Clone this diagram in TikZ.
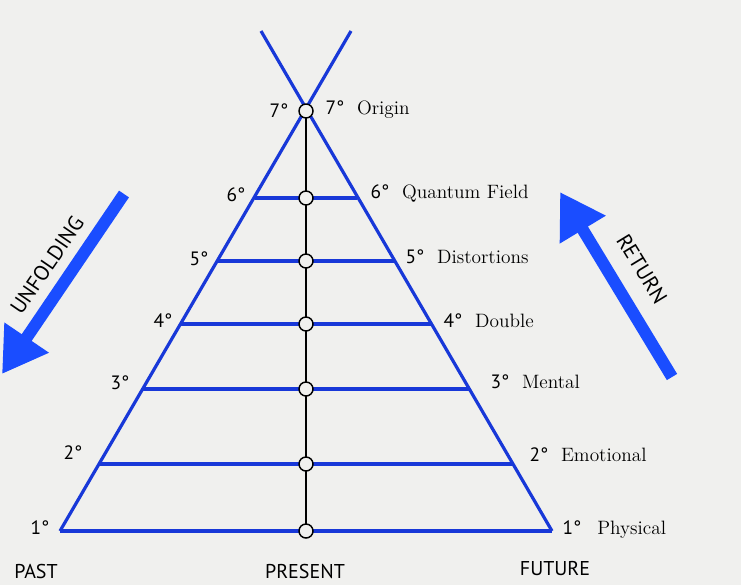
\documentclass[tikz,border=0pt]{standalone}
\usepackage{fontspec}
\setsansfont{PT Sans}
\usetikzlibrary{arrows.meta}
\definecolor{bgrey}{HTML}{F0F0EE}
\definecolor{lineblue}{HTML}{1838D8}
\definecolor{arrowblue}{HTML}{1A4DFF}
\tikzset{
    level/.style={lineblue, line width=2.4pt},
    spine/.style={black, line width=2.2pt},
    joint/.style={circle, draw=black, fill=bgrey, line width=1.1pt, minimum size=10.5pt, inner sep=0pt},
    deg/.style={font=\sffamily\fontsize{14.5}{16}\selectfont, inner sep=1pt},
    named/.style={font=\fontsize{14.5}{16}\selectfont, anchor=west, inner sep=1pt},
    time/.style={font=\sffamily\fontsize{15}{17}\selectfont},
    flow/.style={arrowblue, line width=9pt, -{Triangle[length=33pt,width=38pt]}},
    flowtext/.style={font=\sffamily\fontsize{16}{18}\selectfont}
}
\begin{document}
\begin{tikzpicture}[x=0.75pt, y=-0.75pt]
            % the frame
            \fill[bgrey] (0,0) rectangle (741,585);
            \useasboundingbox (0,0) rectangle (741,585);
            % the triangle
            \coordinate (apex) at (306,111);
            \coordinate (bl) at (60,531);
            \coordinate (br) at (552,531);
            \coordinate (tl) at (261,31);
            \coordinate (tr) at (351,31);
            \draw[level] (bl) -- (tr);
            \draw[level] (br) -- (tl);
            \draw[level] (bl) -- (br);

            % the levels
            \foreach \n/\y in {1/531,2/464,3/389,4/324,5/261,6/198} {
                \coordinate (l\n) at ({306-0.586*(\y-111)}, \y);
                \coordinate (r\n) at ({306+0.586*(\y-111)}, \y);
                \draw[level] (l\n) -- (r\n);
            };
            \draw[spine] (apex) -- (306,531);
            \foreach \n/\y in {1/531,2/464,3/389,4/324,5/261,6/198,7/111} {
                \node[joint] (c\n) at (306,\y) {};
            };

            % left degrees
            \node[deg] (d7) at (279,111) {7°};
            \node[deg] (d6) at (236,195) {6°};
            \node[deg] (d5) at (199,259) {5°};
            \node[deg] (d4) at (163,321) {4°};
            \node[deg] (d3) at (120,383) {3°};
            \node[deg] (d2) at (73,453) {2°};
            \node[deg] (d1) at (40,528) {1°};

            % right labels
            \node[named] (n7) at (324,110) {{\sffamily 7°}\,\, Origin};
            \node[named] (n6) at (369,193) {{\sffamily 6°}\,\, Quantum Field};
            \node[named] (n5) at (404,257) {{\sffamily 5°}\,\, Distortions};
            \node[named] (n4) at (442,321) {{\sffamily 4°}\,\, Double};
            \node[named] (n3) at (489,382) {{\sffamily 3°}\,\, Mental};
            \node[named] (n2) at (528,455) {{\sffamily 2°}\,\, Emotional};
            \node[named] (n1) at (561,530) {{\sffamily 1°}\,\,\, Physical};

            % time
            \node[time] (past) at (36,571) {PAST};
            \node[time] (present) at (305,571) {PRESENT};
            \node[time] (future) at (555,568) {FUTURE};

            % the arrows
            \coordinate (ufrom) at (124,194);
            \coordinate (uto) at (2,374);
            \draw[flow] (ufrom) -- (uto);
            \node[flowtext, rotate=55.6] (unfold) at (47,265) {UNFOLDING};
            \coordinate (rfrom) at (672,377);
            \coordinate (rto) at (560,192);
            \draw[flow] (rfrom) -- (rto);
            \node[flowtext, rotate=-58.7] (return) at (642,269) {RETURN};
\end{tikzpicture}
\end{document}
